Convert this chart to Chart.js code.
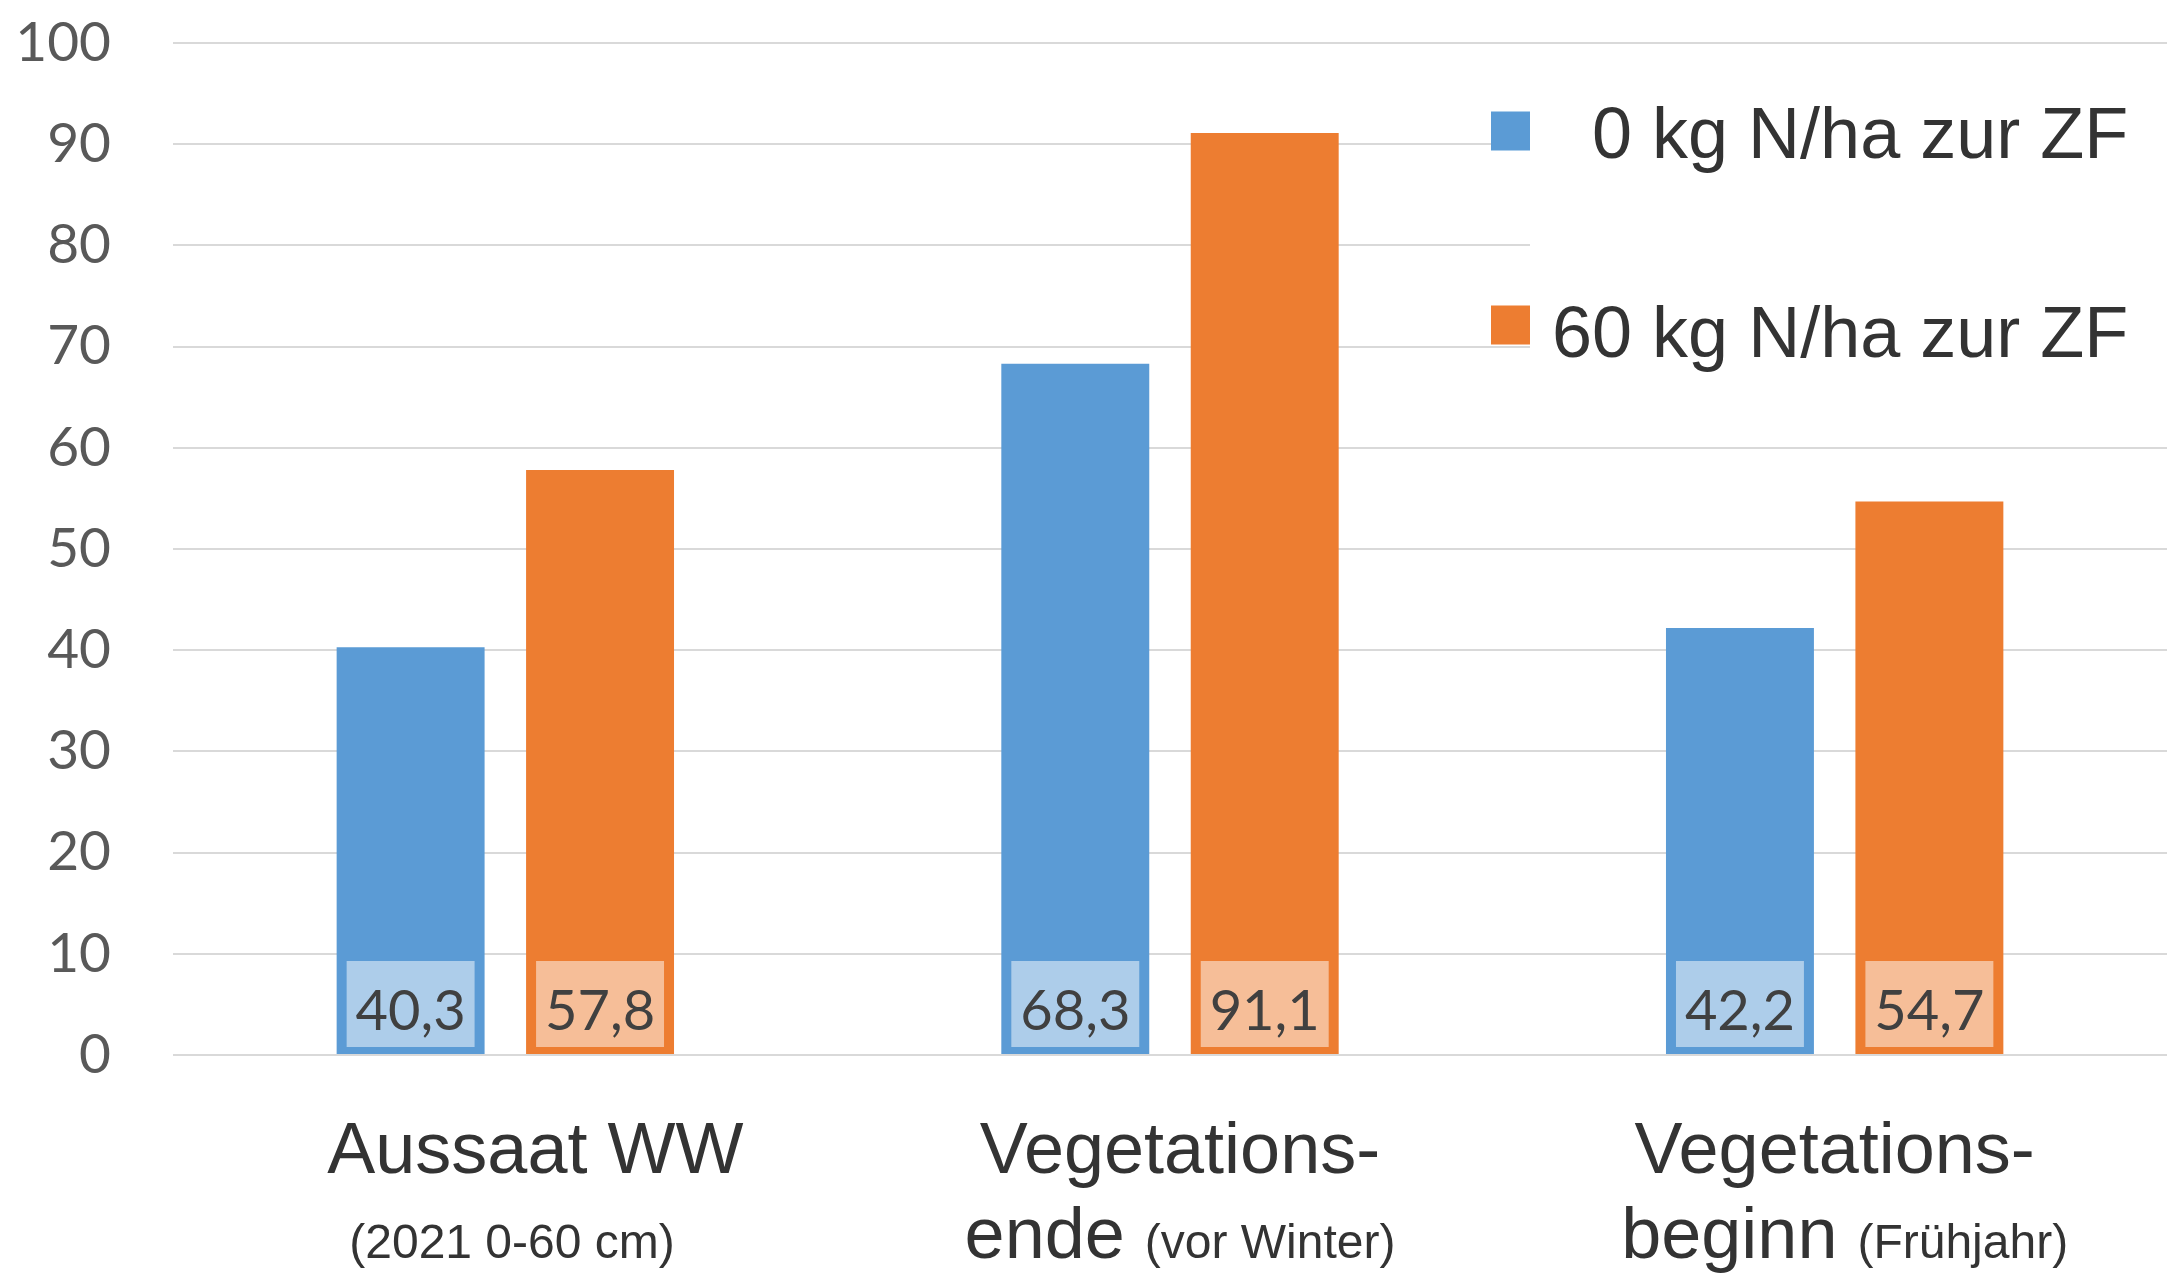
<!DOCTYPE html>
<html>
<head>
<meta charset="utf-8">
<script src="https://cdn.jsdelivr.net/npm/chart.js@4.4.1/dist/chart.umd.min.js"></script>
<style>
  html, body { margin: 0; padding: 0; background: #ffffff; overflow: hidden; }
  canvas { display: block; }
</style>
</head>
<body>
<canvas id="chart" width="2171" height="1277"></canvas>
<script>
// Sampling dates (categories) and their two-line axis captions
const categories = ['Aussaat WW', 'Vegetationsende', 'Vegetationsbeginn'];
const captionTop = ['   Aussaat WW', ' Vegetations-', 'Vegetations-'];
const captionBottomLarge = ['', ' ende ', ' beginn '];
const captionBottomSmall = [' (2021 0-60 cm)', '(vor Winter)', '(Frühjahr)'];

// Series: nitrogen applied to the catch crop (ZF)
const seriesNames = ['  0 kg N/ha zur ZF', '60 kg N/ha zur ZF'];
const valuesN0 = [40.3, 68.3, 42.2];
const valuesN60 = [57.8, 91.1, 54.7];

// Value axis
const yTicks = [0, 10, 20, 30, 40, 50, 60, 70, 80, 90, 100];

const BLUE = '#5B9BD5';
const ORANGE = '#ED7D31';
const TEXT_DARK = '#333333';
const ARIAL = '"Liberation Sans", Arial, sans-serif';
const NUM_FONT = 'Lato, "Open Sans", sans-serif';

const fmt = v => v.toFixed(1).replace('.', ',');

// Value boxes drawn at the foot of every bar
const valueBoxes = {
  id: 'valueBoxes',
  afterDatasetsDraw(chart) {
    const ctx = chart.ctx;
    ctx.save();
    chart.data.datasets.forEach((ds, di) => {
      const meta = chart.getDatasetMeta(di);
      meta.data.forEach((bar, i) => {
        const p = bar.getProps(['x', 'base', 'width'], true);
        const left = p.x - p.width / 2 + 10;
        const right = p.x + p.width / 2 - 10;
        const bottom = p.base - 7;
        const top = bottom - 86;
        ctx.fillStyle = 'rgba(255,255,255,0.5)';
        ctx.fillRect(left, top, right - left, bottom - top);
        ctx.fillStyle = '#404040';
        ctx.font = '56px ' + NUM_FONT;
        ctx.textAlign = 'center';
        ctx.textBaseline = 'middle';
        ctx.fillText(fmt(ds.data[i]), p.x, (top + bottom) / 2 + 8);
      });
    });
    ctx.restore();
  }
};

// Category captions: a large first line, then a line mixing large and small type
const categoryCaptions = {
  id: 'categoryCaptions',
  afterDraw(chart) {
    const ctx = chart.ctx;
    const xs = chart.scales.x;
    const base = chart.chartArea.bottom;
    ctx.save();
    ctx.fillStyle = TEXT_DARK;
    ctx.textBaseline = 'alphabetic';
    categories.forEach((c, i) => {
      const cx = xs.getPixelForValue(i);
      ctx.font = '72px ' + ARIAL;
      ctx.textAlign = 'center';
      ctx.fillText(captionTop[i], cx, base + 118);

      const large = captionBottomLarge[i];
      const small = captionBottomSmall[i];
      ctx.font = '72px ' + ARIAL;
      const wl = ctx.measureText(large).width;
      ctx.font = '48px ' + ARIAL;
      const ws = ctx.measureText(small).width;
      const x = cx - (wl + ws) / 2;
      ctx.textAlign = 'left';
      ctx.font = '72px ' + ARIAL;
      ctx.fillText(large, x, base + 203);
      ctx.font = '48px ' + ARIAL;
      ctx.fillText(small, x + wl, base + 203);
    });
    ctx.restore();
  }
};

// Legend in the upper right, laid over the grid on a white panel
const cornerLegend = {
  id: 'cornerLegend',
  afterDraw(chart) {
    const ctx = chart.ctx;
    const area = chart.chartArea;
    const panelLeft = area.right - 637;
    ctx.save();
    ctx.fillStyle = '#ffffff';
    ctx.fillRect(panelLeft, area.top + 35, chart.width - panelLeft, 360);
    const rows = [area.top + 88, area.top + 282];
    chart.data.datasets.forEach((ds, di) => {
      const cy = rows[di];
      const sq = 39;
      const sx = panelLeft - sq;
      ctx.fillStyle = ds.backgroundColor;
      ctx.fillRect(sx, cy - sq / 2, sq, sq);
      ctx.fillStyle = TEXT_DARK;
      ctx.font = '72px ' + ARIAL;
      ctx.textAlign = 'left';
      ctx.textBaseline = 'alphabetic';
      ctx.fillText(ds.label, sx + sq + 22, cy + 27 + di * 5);
    });
    ctx.restore();
  }
};

new Chart(document.getElementById('chart'), {
  type: 'bar',
  data: {
    labels: categories,
    datasets: [
      { label: seriesNames[0], data: valuesN0, backgroundColor: BLUE },
      { label: seriesNames[1], data: valuesN60, backgroundColor: ORANGE }
    ]
  },
  options: {
    responsive: false,
    animation: false,
    devicePixelRatio: 1,
    layout: { padding: { top: 43, right: 4, left: 0, bottom: 0 } },
    datasets: {
      bar: { categoryPercentage: 0.57, barPercentage: 0.781, borderWidth: 0 }
    },
    plugins: {
      legend: { display: false },
      tooltip: { enabled: false },
      title: { display: false }
    },
    scales: {
      x: {
        grid: { display: false },
        border: { display: false },
        ticks: { display: false },
        afterFit(scale) { scale.height = 222; }
      },
      y: {
        min: 0,
        max: 100,
        afterBuildTicks(scale) { scale.ticks = yTicks.map(v => ({ value: v })); },
        grid: { color: '#d9d9d9', lineWidth: 2, drawTicks: false },
        border: { display: false },
        ticks: {
          padding: 62,
          color: '#595959',
          font: { family: NUM_FONT, size: 55 }
        },
        afterFit(scale) {
          scale.width = 173;
          scale.paddingTop = 0;
          scale.paddingBottom = 0;
        }
      }
    }
  },
  plugins: [valueBoxes, categoryCaptions, cornerLegend]
});
</script>
</body>
</html>
